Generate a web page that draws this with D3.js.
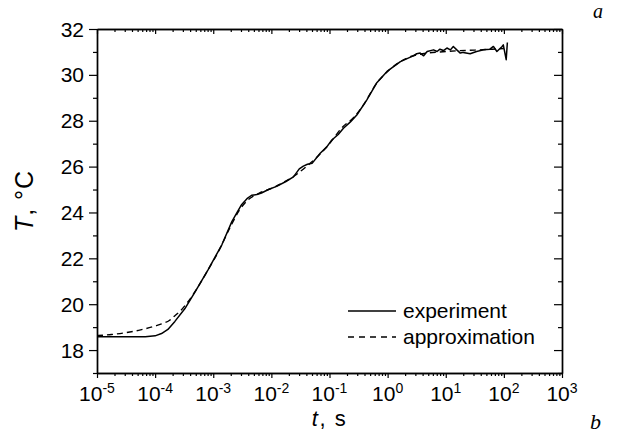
<!DOCTYPE html>
<html>
<head>
<meta charset="utf-8">
<script src="https://cdn.jsdelivr.net/npm/d3@7"></script>
<style>
  body { margin: 0; background: #fff; }
  svg text { font-family: "Liberation Sans", Arial, sans-serif; fill: #000; }
</style>
</head>
<body>
<svg id="chart" width="618" height="435"></svg>
<script>
// experiment: log10(t) and T
const expLogT = [-5.0, -4.5, -4.17, -4.0, -3.89, -3.78, -3.66, -3.49, -3.31, -3.09, -2.85, -2.68, -2.58, -2.51,
  -2.42, -2.34, -2.25, -2.17, -2.05, -1.91, -1.75, -1.62, -1.52, -1.45, -1.38, -1.30, -1.16, -1.05, -0.96,
  -0.85, -0.76, -0.64, -0.53, -0.36, -0.19, -0.01, 0.22, 0.44, 0.50, 0.56, 0.62, 0.68, 0.79, 0.85, 0.90,
  0.96, 1.02, 1.08, 1.13, 1.19, 1.25, 1.30, 1.42, 1.53, 1.65, 1.76, 1.82, 1.88, 1.97, 1.99, 2.04, 2.06]
const expTemp = [18.58, 18.58, 18.58, 18.62, 18.72, 18.9, 19.25, 19.8, 20.55, 21.5, 22.6, 23.6, 24.05, 24.35,
  24.6, 24.75, 24.78, 24.85, 25.0, 25.14, 25.35, 25.55, 25.9, 26.02, 26.1, 26.14, 26.58, 26.85, 27.16,
  27.4, 27.67, 27.95, 28.25, 28.9, 29.64, 30.15, 30.58, 30.83, 30.92, 30.95, 30.83, 31.02, 31.09, 31.02, 31.12,
  31.06, 31.17, 31.09, 31.24, 31.09, 30.95, 30.98, 30.92, 31.02, 31.09, 31.12, 31.24, 31.02, 31.24, 31.31, 30.66, 31.41]

// approximation
const fitLogT = [-5.0, -4.75, -4.5, -4.25, -4.0, -3.89, -3.75, -3.66, -3.55, -3.46, -3.3, -3.1, -2.9, -2.7, -2.55,
  -2.4, -2.2, -2.0, -1.8, -1.6, -1.4, -1.2, -1.0, -0.77, -0.6, -0.4, -0.2, 0.0, 0.2, 0.4, 0.6, 0.9, 1.2, 1.5, 1.8, 2.0]
const fitTemp = [18.63, 18.68, 18.76, 18.88, 19.05, 19.14, 19.3, 19.5, 19.75, 20.02, 20.6, 21.45, 22.35, 23.4, 24.1,
  24.55, 24.85, 25.05, 25.3, 25.6, 26.0, 26.45, 27.0, 27.74, 28.1, 28.75, 29.6, 30.15, 30.55, 30.8, 30.92, 31.0,
  31.05, 31.08, 31.12, 31.15]

const xDecades = [-5, -4, -3, -2, -1, 0, 1, 2, 3]
const yMajor = [18, 20, 22, 24, 26, 28, 30, 32]
const yMinor = [17, 19, 21, 23, 25, 27, 29, 31]
const legendNames = ["experiment", "approximation"]

const mLeft = 97, mRight = 562, mTop = 29, mBottom = 373

const svg = d3.select("#chart")

const x = d3.scaleLog().domain([1e-5, 1e3]).range([mLeft, mRight])
const y = d3.scaleLinear().domain([17, 32]).range([mBottom, mTop])

let xMinor = []
xDecades.slice(0, -1).forEach(e => {
  for (let k = 2; k <= 9; k++) xMinor.push(k * Math.pow(10, e))
})
const xMajor = xDecades.map(e => Math.pow(10, e))

function styleAxis(g) {
  g.select(".domain").attr("stroke", "#000").attr("stroke-width", 1.4)
  g.selectAll(".tick line").attr("stroke", "#000").attr("stroke-width", 1.2)
  g.selectAll("text").remove()
}

function addAxis(axisFn, scale, tx, ty, minors, majors, minLen, majLen) {
  svg.append("g").attr("transform", `translate(${tx},${ty})`)
    .call(axisFn(scale).tickValues(minors).tickSize(minLen).tickSizeOuter(0).tickFormat(""))
    .call(styleAxis)
  svg.append("g").attr("transform", `translate(${tx},${ty})`)
    .call(axisFn(scale).tickValues(majors).tickSize(majLen).tickSizeOuter(0).tickFormat(""))
    .call(styleAxis)
}

addAxis(d3.axisBottom, x, 0, mBottom, xMinor, xMajor, 3, 5)   // bottom
addAxis(d3.axisBottom, x, 0, mTop, xMinor, xMajor, 3, 5)      // top, ticks inward
addAxis(d3.axisLeft, y, mLeft, 0, yMinor, yMajor, 4, 8)       // left
addAxis(d3.axisLeft, y, mRight, 0, yMinor, yMajor, 4, 8)      // right, ticks inward

// tick labels
const xl = svg.append("g").selectAll("text").data(xDecades).enter()
  .append("text")
  .attr("x", d => x(Math.pow(10, d)))
  .attr("y", 401)
  .attr("text-anchor", "middle")
  .attr("font-size", 21)
xl.append("tspan").text("10")
xl.append("tspan").attr("dy", -8).attr("font-size", 14).text(d => d < 0 ? "-" + (-d) : d)

svg.append("g").selectAll("text").data(yMajor).enter()
  .append("text")
  .attr("x", mLeft - 13)
  .attr("y", d => y(d))
  .attr("dy", "0.36em")
  .attr("text-anchor", "end")
  .attr("font-size", 21)
  .text(d => d)

// axis titles
const xt = svg.append("text").attr("x", (mLeft + mRight) / 2).attr("y", 426)
  .attr("text-anchor", "middle").attr("font-size", 22).attr("letter-spacing", 1.5)
xt.append("tspan").attr("font-style", "italic").text("t")
xt.append("tspan").text(", s")

const yt = svg.append("text")
  .attr("transform", `translate(33,${(mTop + mBottom) / 2}) rotate(-90)`)
  .attr("text-anchor", "middle").attr("font-size", 25).attr("letter-spacing", 1)
yt.append("tspan").attr("font-style", "italic").text("T")
yt.append("tspan").text(", \u00B0C")

// panel letters
svg.append("text").attr("x", 593).attr("y", 18)
  .style("font-family", "'Liberation Serif', 'Times New Roman', serif")
  .attr("font-style", "italic").attr("font-size", 20).text("a")
svg.append("text").attr("x", 590).attr("y", 429)
  .style("font-family", "'Liberation Serif', 'Times New Roman', serif")
  .attr("font-style", "italic").attr("font-size", 22).text("b")

// curves
const line = d3.line()
  .x(d => x(Math.pow(10, d[0])))
  .y(d => y(d[1]))

svg.append("path")
  .datum(fitLogT.map((v, i) => [v, fitTemp[i]]))
  .attr("d", line.curve(d3.curveMonotoneX))
  .attr("fill", "none")
  .attr("stroke", "#000")
  .attr("stroke-width", 1.4)
  .attr("stroke-dasharray", "6,4")

svg.append("path")
  .datum(expLogT.map((v, i) => [v, expTemp[i]]))
  .attr("d", line.curve(d3.curveLinear))
  .attr("fill", "none")
  .attr("stroke", "#000")
  .attr("stroke-width", 1.5)
  .attr("stroke-linejoin", "round")

// legend
const legend = svg.append("g").selectAll("g").data(legendNames).enter()
  .append("g")
  .attr("transform", (d, i) => `translate(348,${311 + i * 26})`)
legend.append("line")
  .attr("x1", 0).attr("x2", 48).attr("y1", 0).attr("y2", 0)
  .attr("stroke", "#000").attr("stroke-width", 1.4)
  .attr("stroke-dasharray", (d, i) => i == 0 ? null : "6,5")
legend.append("text")
  .attr("x", 55).attr("y", 7)
  .attr("font-size", 21)
  .text(d => d)
</script>
</body>
</html>
